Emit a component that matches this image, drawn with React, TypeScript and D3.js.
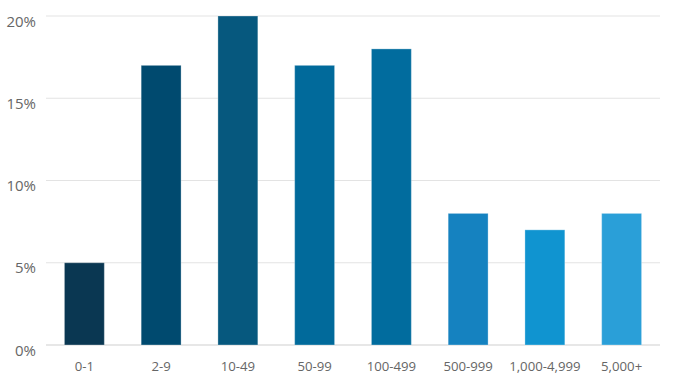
import React from "react";
import * as d3 from "d3";

const categories = ["0-1", "2-9", "10-49", "50-99", "100-499", "500-999", "1,000-4,999", "5,000+"];
const values = [5, 17, 20, 17, 18, 8, 7, 8];
const colors = ["#0a3752", "#004a6f", "#06587e", "#016a9b", "#016c9e", "#1582c0", "#1094d0", "#2a9fd8"];
const yTicks = [0, 5, 10, 15, 20];

export default function App() {
  const W = 688, H = 387;
  const x = d3.scaleBand<string>().domain(categories).range([46, 660]).paddingInner(0.48).paddingOuter(0.24);
  const y = d3.scaleLinear().domain([0, 20]).range([345, 16]);
  const font = "'Open Sans', 'Noto Sans', sans-serif";
  return (
    <svg width={W} height={H} style={{ position: "absolute", left: 0, top: 0, background: "#fff" }}>
      {yTicks.map((t) => (
        <g key={t}>
          <line x1={46} x2={660} y1={y(t)} y2={y(t)} stroke={t === 0 ? "#cfcfcf" : "#e3e3e3"} strokeWidth={1} />
          <text x={36} y={y(t) + 10.5} textAnchor="end" fontFamily={font} fontSize={15} fill="#666">{t}%</text>
        </g>
      ))}
      {categories.map((c, i) => (
        <rect key={c} x={x(c)!} y={y(values[i])} width={x.bandwidth()} height={y(0) - y(values[i])}
          fill={colors[i]} stroke="rgba(255,255,255,0.3)" strokeWidth={1} />
      ))}
      {categories.map((c) => (
        <text key={c} x={x(c)! + x.bandwidth() / 2} y={371} textAnchor="middle" fontFamily={font} fontSize={13.2} fill="#666">{c}</text>
      ))}
    </svg>
  );
}
